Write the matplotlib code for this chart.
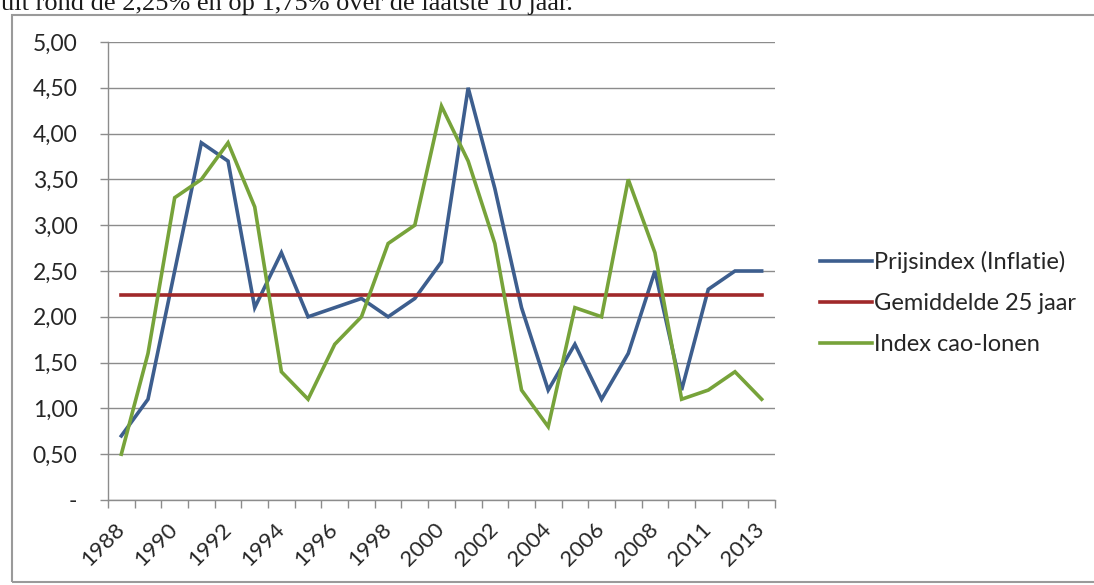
import matplotlib.pyplot as plt
from matplotlib.patches import Rectangle
from matplotlib.ticker import FixedLocator

# jaren (2009 ontbreekt in de reeks)
years = [str(y) for y in range(1988, 2009)] + ['2010', '2011', '2012', '2013']

prijsindex = [0.7, 1.1, 2.5, 3.9, 3.7, 2.1, 2.7, 2.0, 2.1, 2.2, 2.0, 2.2, 2.6,
              4.5, 3.4, 2.1, 1.2, 1.7, 1.1, 1.6, 2.5, 1.2, 2.3, 2.5, 2.5]
gemiddelde = [2.24] * 25
cao_lonen = [0.5, 1.6, 3.3, 3.5, 3.9, 3.2, 1.4, 1.1, 1.7, 2.0, 2.8, 3.0, 4.3,
             3.7, 2.8, 1.2, 0.8, 2.1, 2.0, 3.5, 2.7, 1.1, 1.2, 1.4, 1.1]

y_ticks = [0, 0.5, 1.0, 1.5, 2.0, 2.5, 3.0, 3.5, 4.0, 4.5, 5.0]
y_labels = ['-', '0,50', '1,00', '1,50', '2,00', '2,50', '3,00', '3,50',
            '4,00', '4,50', '5,00']

plt.rcParams['font.family'] = ['Lato', 'DejaVu Sans']

fig = plt.figure(figsize=(10.94, 5.85), dpi=100)
ax = fig.add_axes([0.0987, 0.1453, 0.6097, 0.7829])

# kader om de grafiek
fig.patches.append(Rectangle((12 / 1094, 3 / 585), 1.2, 567 / 585,
                             transform=fig.transFigure, fill=False,
                             edgecolor='#9a9a9a', lw=1.5))

# afgesneden tekstregel erboven
fig.text(1 / 1094, 1 - 10 / 585,
         'uit rond de 2,25% en op 1,75% over de laatste 10 jaar.',
         family='Liberation Serif', fontsize=19, color='#1a1a1a',
         va='baseline', ha='left')

x = list(range(len(years)))
ax.plot(x, prijsindex, color='#3d5e8e', lw=2.6, label='Prijsindex (Inflatie)',
        solid_joinstyle='miter')
ax.plot(x, gemiddelde, color='#a0292a', lw=2.6, label='Gemiddelde 25 jaar')
ax.plot(x, cao_lonen, color='#77a33a', lw=2.6, label='Index cao-lonen',
        solid_joinstyle='miter')

ax.set_xlim(-0.5, len(years) - 0.5)
ax.set_ylim(0, 5)

ax.set_yticks(y_ticks)
ax.set_yticklabels(y_labels)
ax.yaxis.grid(True, color='#8c8c8c', lw=1)
ax.set_axisbelow(True)
ax.tick_params(axis='y', length=6, width=1, color='#8c8c8c', pad=16,
               labelsize=16.5, labelcolor='#262626')

# streepjes op de categoriegrenzen, labels op elke tweede categorie
ax.xaxis.set_major_locator(FixedLocator([i - 0.5 for i in range(len(years) + 1)]))
ax.xaxis.set_major_formatter(plt.NullFormatter())
ax.tick_params(axis='x', which='major', length=6, width=1, color='#8c8c8c')
lab_pos = list(range(0, len(years), 2))
ax.xaxis.set_minor_locator(FixedLocator(lab_pos))
ax.set_xticklabels([years[i] for i in lab_pos], minor=True)
ax.tick_params(axis='x', which='minor', length=0, pad=19, labelsize=16,
               labelcolor='#262626')
for lbl in ax.get_xticklabels(minor=True):
    lbl.set_rotation(45)
    lbl.set_ha('right')
    lbl.set_va('center')
    lbl.set_rotation_mode('anchor')

for side in ('top', 'right'):
    ax.spines[side].set_visible(False)
for side in ('left', 'bottom'):
    ax.spines[side].set_color('#8c8c8c')
    ax.spines[side].set_linewidth(1)

fig.legend(loc='center left', bbox_to_anchor=(820 / 1094, 1 - 303 / 585),
           frameon=False, fontsize=17, handlelength=2.2, handletextpad=0.1,
           labelspacing=0.85, borderpad=0, borderaxespad=0, labelcolor='#262626')

fig.savefig('out.png', dpi=100, facecolor='white')
